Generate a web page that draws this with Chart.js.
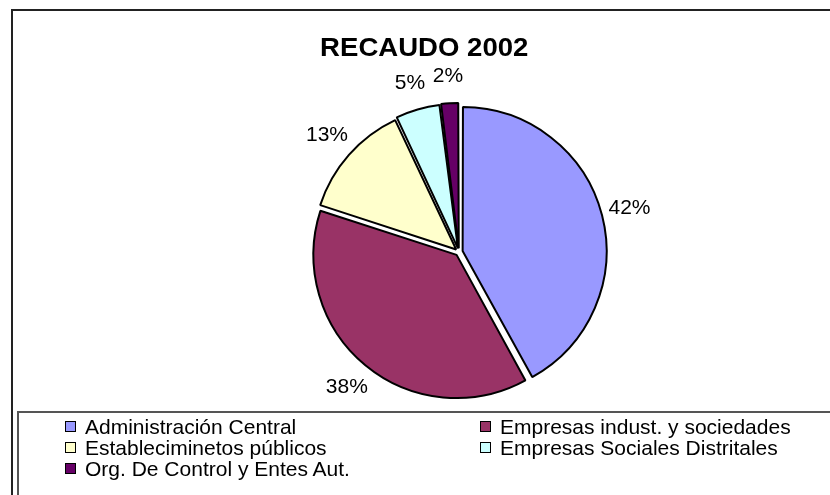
<!DOCTYPE html>
<html>
<head>
<meta charset="utf-8">
<script src="https://cdn.jsdelivr.net/npm/chart.js@4/dist/chart.umd.min.js"></script>
<style>
    body { margin: 0; background: #fff; font-family: "Liberation Sans", Arial, sans-serif; }
    #wrap { position: relative; width: 830px; height: 495px; overflow: hidden; }
    #pieChart { position: absolute; left: 0; top: 0; }
    #frame { position: absolute; left: 11px; top: 9px; width: 900px; height: 600px; border: 2px solid #222; }
    #title { position: absolute; left: 0; width: 848px; top: 32px; text-align: center; }
    #title span { display: inline-block; font-weight: bold; font-size: 26px; transform: scaleX(1.06); color: #000; }
    #legend { position: absolute; left: 17px; top: 411px; width: 900px; height: 200px; border: 2px solid #555; box-sizing: border-box; }
    #legend .items { position: absolute; left: 46px; top: 3px; display: grid; grid-template-columns: 415px auto; }
    #legend .item { height: 21px; line-height: 21px; font-size: 21px; color: #000; white-space: nowrap; display: flex; align-items: center; }
    #legend .box { width: 9px; height: 9px; border: 1.5px solid #000; margin-right: 9px; flex: none; }
</style>
</head>
<body>
<div id="wrap">
    <canvas id="pieChart" width="830" height="495"></canvas>
    <div id="frame"></div>
    <div id="title"><span>RECAUDO 2002</span></div>
    <div id="legend"><div class="items" id="legend-items"></div></div>
</div>
<script>
const labels = [
    'Administración Central',
    'Empresas indust. y sociedades',
    'Estableciminetos públicos',
    'Empresas Sociales Distritales',
    'Org. De Control y Entes Aut.'
];
const percents = [42, 38, 13, 5, 2];
const colors = ['#9999FF', '#993366', '#FFFFCC', '#CCFFFF', '#660066'];

// Build the legend (2 columns like the original)
const legendEl = document.getElementById('legend-items');
labels.forEach((name, i) => {
    const div = document.createElement('div');
    div.className = 'item';
    div.innerHTML = `<span class="box" style="background:${colors[i]}"></span><span>${name}</span>`;
    legendEl.appendChild(div);
});

// Percent labels outside each slice
const outsideLabels = {
    id: 'outsideLabels',
    afterDatasetsDraw(chart) {
        const ctx = chart.ctx;
        const meta = chart.getDatasetMeta(0);
        ctx.save();
        ctx.font = '21px "Liberation Sans", Arial, sans-serif';
        ctx.fillStyle = '#000';
        ctx.textAlign = 'center';
        ctx.textBaseline = 'middle';
        meta.data.forEach((arc, i) => {
            const p = arc.getProps(['x', 'y', 'startAngle', 'endAngle', 'outerRadius'], true);
            const mid = (p.startAngle + p.endAngle) / 2;
            const d = p.outerRadius + 34;
            ctx.fillText(percents[i] + '%', p.x + Math.cos(mid) * d, p.y + Math.sin(mid) * d);
        });
        ctx.restore();
    }
};

const ctx = document.getElementById('pieChart').getContext('2d');
new Chart(ctx, {
    type: 'pie',
    data: {
        labels: labels,
        datasets: [{
            data: percents,
            backgroundColor: colors,
            borderColor: '#000',
            borderWidth: 2,
            offset: 15  // chart.js draws offset / 4, so ~4px explode
        }]
    },
    options: {
        responsive: false,
        animation: false,
        devicePixelRatio: 1,
        radius: 142,
        layout: { padding: { left: 88, right: 0, top: 9, bottom: 0 } },
        plugins: {
            legend: { display: false },
            title: { display: false },
            tooltip: { enabled: false }
        }
    },
    plugins: [outsideLabels]
});
</script>
</body>
</html>
